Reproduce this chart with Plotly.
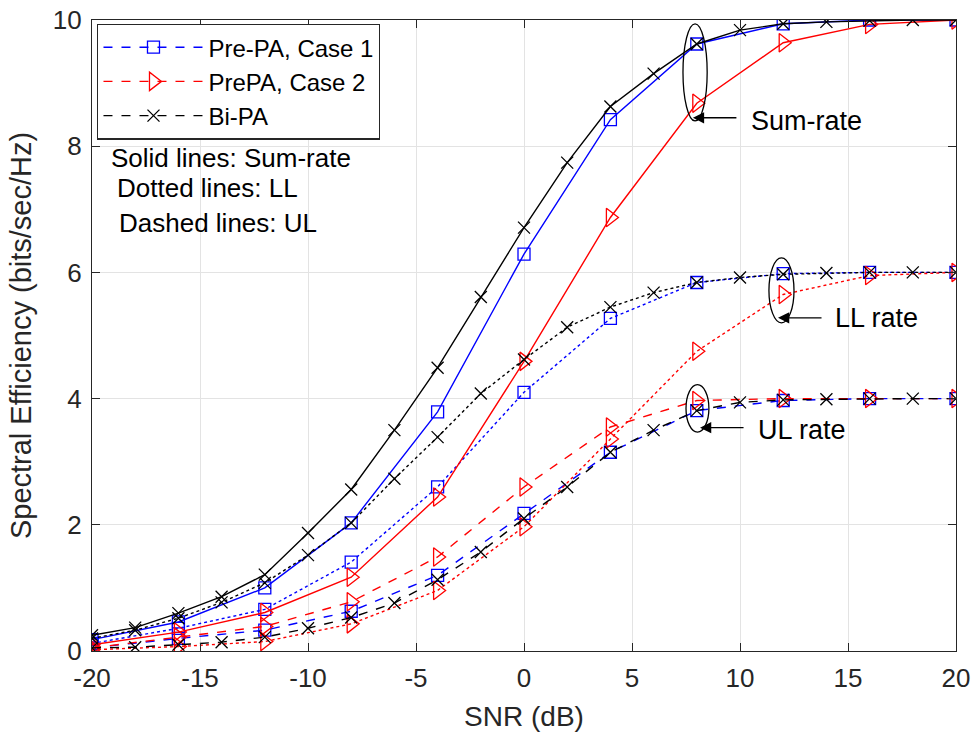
import plotly.graph_objects as go

# SNR grids
snr_pre = [-20, -16, -12, -8, -4, 0, 4, 8, 12, 16, 20]
snr_bi = list(range(-20, 21, 2))

# Pre-PA, Case 1
case1_sum = [0.18, 0.46, 1.00, 2.03, 3.79, 6.29, 8.42, 9.62, 9.94, 10.0, 10.0]
case1_ll = [0.12, 0.36, 0.66, 1.41, 2.60, 4.10, 5.27, 5.84, 5.98, 6.0, 6.0]
case1_ul = [0.05, 0.20, 0.33, 0.63, 1.20, 2.18, 3.15, 3.81, 3.97, 4.0, 4.0]

# PrePA, Case 2
case2_sum = [0.10, 0.30, 0.61, 1.17, 2.44, 4.59, 6.87, 8.68, 9.64, 9.93, 10.0]
case2_ll = [0.02, 0.07, 0.15, 0.43, 0.96, 1.97, 3.36, 4.75, 5.65, 5.95, 6.0]
case2_ul = [0.05, 0.22, 0.39, 0.78, 1.49, 2.60, 3.55, 3.97, 4.0, 4.0, 4.0]

# Bi-PA
bi_sum = [0.25, 0.37, 0.60, 0.86, 1.21, 1.87, 2.56, 3.50, 4.49, 5.61, 6.71,
          7.74, 8.63, 9.15, 9.62, 9.84, 9.94, 9.97, 9.99, 10.0, 10.0]
bi_ll = [0.20, 0.33, 0.52, 0.77, 1.08, 1.52, 2.03, 2.73, 3.39, 4.08, 4.62,
         5.13, 5.45, 5.68, 5.84, 5.92, 5.97, 5.99, 6.0, 6.0, 6.0]
bi_ul = [0.05, 0.06, 0.10, 0.14, 0.22, 0.36, 0.53, 0.76, 1.13, 1.57, 2.10,
         2.60, 3.15, 3.50, 3.81, 3.94, 3.98, 3.99, 4.0, 4.0, 4.0]

legend_names = ["Pre-PA, Case 1", "PrePA, Case 2", "Bi-PA"]
xticks = [-20, -15, -10, -5, 0, 5, 10, 15, 20]
yticks = [0, 2, 4, 6, 8, 10]

BLUE = "#0000ff"
RED = "#ff0000"
BLACK = "#000000"
AXIS = "#262626"
FONT = "Liberation Sans, Arial, sans-serif"

series = [
    (snr_pre, [case1_sum, case1_ll, case1_ul], BLUE,
     dict(symbol="square-open", size=12, color=BLUE, line=dict(width=1.3, color=BLUE))),
    (snr_pre, [case2_sum, case2_ll, case2_ul], RED,
     dict(symbol="triangle-right-open", size=16, color=RED, line=dict(width=1.3, color=RED))),
    (snr_bi, [bi_sum, bi_ll, bi_ul], BLACK,
     dict(symbol="x-thin-open", size=12, color=BLACK, line=dict(width=1.3, color=BLACK))),
]
styles = ["solid", "dot", "dash"]

fig = go.Figure()
for x, ys, color, marker in series:
    for y, dash in zip(ys, styles):
        fig.add_trace(go.Scatter(
            x=x, y=y, mode="lines+markers",
            line=dict(color=color, width=1.4, dash=dash),
            marker=marker, showlegend=False, hoverinfo="x+y",
        ))

# Legend entries (dashed line with marker)
for i, (name, (_, _, color, marker)) in enumerate(zip(legend_names, series)):
    fig.add_trace(go.Scatter(
        x=[None], y=[None], mode="lines+markers", name=name,
        line=dict(color=color, width=1.4, dash="dash"), marker=marker,
        legendgroup=f"g{i}",
    ))

# Ellipses grouping each family of curves
ellipses = [(7.92, 0.56, 8.40, 9.94), (11.92, 0.58, 5.20, 6.23), (8.03, 0.53, 3.47, 4.22)]
for cx, hw, y0, y1 in ellipses:
    fig.add_shape(type="circle", xref="x", yref="y",
                  x0=cx - hw, x1=cx + hw, y0=y0, y1=y1,
                  line=dict(color=BLACK, width=1.3))

# Arrows and labels
callouts = [
    ("Sum-rate", 7.82, 8.45, 10.42, 8.40),
    ("LL rate", 11.76, 5.28, 14.30, 5.27),
    ("UL rate", 8.15, 3.54, 10.74, 3.50),
]
for text, tx, ty, lx, ly in callouts:
    fig.add_annotation(x=tx, y=ty, xref="x", yref="y", text="", showarrow=True,
                       ax=45, ay=0, axref="pixel", ayref="pixel",
                       arrowhead=2, arrowsize=1.6, arrowwidth=1.4, arrowcolor=BLACK)
    fig.add_annotation(x=lx, y=ly, xref="x", yref="y", text=text, showarrow=False,
                       xanchor="left", yanchor="middle",
                       font=dict(family=FONT, size=27, color=BLACK))

notes = [
    ("Solid lines: Sum-rate", -19.21, 7.82),
    ("Dotted lines: LL", -18.94, 7.34),
    ("Dashed lines: UL", -18.85, 6.79),
]
for text, nx, ny in notes:
    fig.add_annotation(x=nx, y=ny, xref="x", yref="y", text=text, showarrow=False,
                       xanchor="left", yanchor="middle",
                       font=dict(family=FONT, size=26, color=BLACK))

axis_common = dict(
    showgrid=True, gridcolor="#e3e3e3", gridwidth=1,
    showline=True, linecolor=AXIS, linewidth=1.3, mirror="ticks",
    ticks="inside", ticklen=8, tickcolor=AXIS, tickwidth=1,
    zeroline=False, automargin=False,
    tickfont=dict(family=FONT, size=26, color=AXIS),
)

fig.update_xaxes(range=[-20, 20], tickvals=xticks, ticktext=[str(v) for v in xticks],
                 ticklabelstandoff=4,
                 title=dict(text="SNR (dB)", font=dict(family=FONT, size=28, color=AXIS),
                            standoff=14),
                 **axis_common)
fig.update_yaxes(range=[0, 10], tickvals=yticks, ticktext=[str(v) for v in yticks],
                 ticklabelstandoff=4,
                 title=dict(text="Spectral Efficiency (bits/sec/Hz)",
                            font=dict(family=FONT, size=29, color=AXIS), standoff=12),
                 **axis_common)

fig.update_layout(
    width=978, height=735,
    margin=dict(l=92, r=22, t=20, b=84),
    paper_bgcolor="white", plot_bgcolor="white",
    font=dict(family=FONT, color=BLACK),
    legend=dict(x=0.006, y=0.994, xanchor="left", yanchor="top",
                bgcolor="white", bordercolor=AXIS, borderwidth=1.3,
                font=dict(family=FONT, size=24, color=BLACK),
                tracegroupgap=0, itemwidth=100),
)

fig.write_html("out.html")
